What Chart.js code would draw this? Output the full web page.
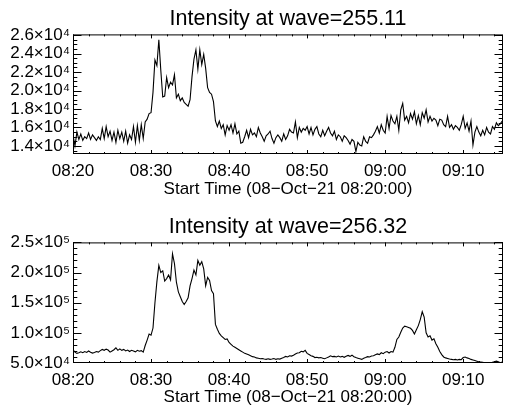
<!DOCTYPE html>
<html>
<head>
<meta charset="utf-8">
<script src="https://cdn.jsdelivr.net/npm/chart.js@4.4.1/dist/chart.umd.min.js"></script>
<style>
html, body { margin: 0; padding: 0; background: #fff; }
canvas { display: block; }
</style>
</head>
<body>
<canvas id="chart255" width="507" height="200"></canvas>
<canvas id="chart256" width="507" height="208"></canvas>
<script>
// intensity at 255.11, one value every 15 s from 08:20:00
const intensity255 = [
  15200, 14000, 15500, 14700, 15300, 14600, 15000, 14800, 15400, 14700, 15200, 14900,
  14600, 15000, 14700, 15900, 14800, 16100, 15000, 15600, 14600, 15500, 14400, 15700,
  14800, 15500, 14500, 15600, 14300, 15200, 14700, 16100, 14400, 16200, 14600, 16300,
  14800, 16600, 16900, 17500, 17600, 19800, 23300, 22700, 25500, 22200, 19300, 19400,
  21400, 20300, 20900, 20600, 21700, 19200, 19600, 18900, 19200, 18700, 18500, 18300,
  19000, 21500, 23400, 24400, 22300, 24400, 22800, 23900, 22400, 20300, 19800, 19600,
  18800, 16700, 16100, 16700, 15900, 16300, 15200, 16200, 15700, 16300, 15400, 16400,
  15300, 15600, 14300, 14400, 15000, 15700, 14900, 15800, 15200, 15400, 15000, 16000,
  15400, 15000, 14500, 15100, 15300, 15600, 14800, 14300, 14900, 15200, 14900, 14500,
  15300, 14700, 15100, 15800, 15500, 15400, 16600, 14900, 16000, 15500, 15900, 15700,
  16100, 15300, 16000, 15200, 15800, 16100, 15300, 15000, 15700, 15100, 15600, 16000,
  15400, 15100, 15600, 14700, 15200, 15000, 14500, 15100, 14900, 14600, 14200, 14700,
  14500, 13400, 14400, 14100, 14000, 15000, 14500, 14300, 15000, 14900, 15200, 15600,
  16100, 15400, 16300, 15700, 15400, 17200, 15900, 17300, 16700, 16400, 17200, 15700,
  17900, 18600, 16800, 17200, 16500, 17500, 16900, 17700, 16400, 17300, 16300, 17600,
  17000, 17900, 16600, 17200, 16700, 17000, 16800, 16200, 16900, 16800, 16300, 16100,
  17200, 16000, 16300, 15800, 16200, 16000, 15700, 16300, 17200, 15900, 16500, 15600,
  16700, 14100, 15500, 16100, 15500, 15100, 15700, 15200, 16000, 15500, 15300, 16100,
  15800, 16500, 16200, 16400, 16700
];

// intensity at 256.32, same cadence
const intensity256 = [
  72000, 68000, 66000, 67000, 68500, 67000, 69000, 67500, 70000, 68000, 66500, 67500,
  69000, 68000, 70500, 72500, 71000, 73000, 71500, 68000, 70000, 72000, 75000, 71000,
  73500, 71000, 72500, 70000, 71500, 69000, 71000, 70000, 68500, 71000, 69500, 70500,
  68000, 79000, 88000, 98000, 96000, 108000, 150000, 185000, 212000, 200000, 203000, 186000,
  190000, 196000, 188000, 231000, 215000, 184000, 168000, 160000, 152000, 147000, 152000, 158000,
  178000, 190000, 204000, 196000, 220000, 212000, 218000, 206000, 178000, 192000, 187000, 170000,
  165000, 114000, 106000, 99000, 95000, 92000, 89000, 90000, 84000, 81000, 78000, 76000,
  74000, 72000, 70000, 68000, 66000, 65000, 63500, 62000, 60500, 60000, 58500, 58000,
  57000, 57500, 56500, 56000, 57000, 56000, 56500, 57500, 56000, 57000, 56500, 58000,
  59000, 61000, 60000, 62000, 61500, 63000, 65000, 66500, 67000, 69500, 68500, 71000,
  66000, 64000, 62000, 61000, 59000, 59500, 58500, 59000, 58000, 57000, 58500, 60000,
  62000, 60500, 61000, 60000, 61500, 60000, 61000, 59500, 61000, 62500, 61000, 63000,
  60500, 59000, 58000, 57000, 56000, 58000, 59000, 60500, 60000, 61500, 62000, 63500,
  65000, 64000, 67000, 65500, 68000, 69000, 66500, 69000, 68000, 76000, 89000, 93000,
  101000, 108000, 111000, 110000, 109000, 107500, 104000, 98000, 105000, 112000, 122000, 135000,
  126000, 100000, 93000, 95000, 88000, 90000, 82000, 76000, 69000, 64000, 60000, 58500,
  57500, 56500, 56000, 55500, 56000, 55000, 56000, 55500, 59000, 60000, 58500, 57500,
  56000, 55000, 54000, 53000, 52000, 51500, 51000, 50500, 50000, 50500, 50000, 51000,
  52000, 53000, 52000, 50500, 51500
];

// minutes after 08:20:00 (15 s cadence)
const minutes = intensity255.map((v, i) => i * 0.25);

const xMajor = [0, 10, 20, 30, 40, 50];
const xTickLabels = ['08:20', '08:30', '08:40', '08:50', '09:00', '09:10'];
const xMinor = [2, 4, 6, 8, 12, 14, 16, 18, 22, 24, 26, 28, 32, 34, 36, 38, 42, 44, 46, 48, 52, 54];

const yMajor255 = [14000, 16000, 18000, 20000, 22000, 24000, 26000];
const yLabels255 = ['1.4×10⁴', '1.6×10⁴', '1.8×10⁴', '2.0×10⁴', '2.2×10⁴', '2.4×10⁴', '2.6×10⁴'];
const yMinor255 = [13500, 14500, 15000, 15500, 16500, 17000, 17500, 18500, 19000, 19500,
  20500, 21000, 21500, 22500, 23000, 23500, 24500, 25000, 25500];

const yMajor256 = [50000, 100000, 150000, 200000, 250000];
const yLabels256 = ['5.0×10⁴', '1.0×10⁵', '1.5×10⁵', '2.0×10⁵', '2.5×10⁵'];
const yMinor256 = [60000, 70000, 80000, 90000, 110000, 120000, 130000, 140000,
  160000, 170000, 180000, 190000, 210000, 220000, 230000, 240000];

const FONT = "'Liberation Sans', Arial, Helvetica, sans-serif";

// IDL style box with inward ticks on all four sides
const frame = {
  id: 'frame',
  afterDatasetsDraw(chart, args, opts) {
    const { ctx, chartArea: a, scales: { x, y } } = chart;
    ctx.save();
    ctx.strokeStyle = '#000';
    ctx.lineWidth = 1;
    ctx.strokeRect(a.left + 0.5, a.top + 0.5, a.right - a.left - 1, a.bottom - a.top - 1);
    ctx.beginPath();
    const xt = (vals, len) => vals.forEach(v => {
      const p = Math.round(x.getPixelForValue(v)) + 0.5;
      ctx.moveTo(p, a.bottom); ctx.lineTo(p, a.bottom - len);
      ctx.moveTo(p, a.top); ctx.lineTo(p, a.top + len);
    });
    const yt = (vals, len) => vals.forEach(v => {
      const p = Math.round(y.getPixelForValue(v)) + 0.5;
      if (p < a.top || p > a.bottom) return;
      ctx.moveTo(a.left, p); ctx.lineTo(a.left + len, p);
      ctx.moveTo(a.right, p); ctx.lineTo(a.right - len, p);
    });
    xt(opts.xMajor, 4);
    xt(opts.xMinor, 2);
    yt(opts.yMajor, 8.5);
    yt(opts.yMinor, 4.3);
    ctx.stroke();
    ctx.restore();
  }
};

function drawPanel(id, values, title, yMin, yMax, yMajor, yLabels, yMinor, titlePad, xHeight) {
  new Chart(id, {
    type: 'line',
    data: {
      datasets: [{
        data: values.map((v, i) => ({ x: minutes[i], y: v })),
        borderColor: '#000',
        borderWidth: 1.1,
        pointRadius: 0,
        tension: 0,
        fill: false
      }]
    },
    options: {
      responsive: false,
      animation: false,
      devicePixelRatio: 1,
      layout: { padding: { left: 0, right: 4, top: 0, bottom: 0 } },
      plugins: {
        legend: { display: false },
        tooltip: { enabled: false },
        title: {
          display: true,
          text: title,
          color: '#000',
          fullSize: false,
          font: { family: FONT, size: 21.5, weight: 'normal', lineHeight: 1.2 },
          padding: titlePad
        },
        frame: { xMajor: xMajor, xMinor: xMinor, yMajor: yMajor, yMinor: yMinor }
      },
      scales: {
        x: {
          type: 'linear',
          min: 0,
          max: 55.1,
          grid: { display: false, drawTicks: false },
          border: { display: false },
          afterBuildTicks: s => { s.ticks = xMajor.map(v => ({ value: v })); },
          afterFit: s => { s.height = xHeight; },
          ticks: {
            color: '#000',
            autoSkip: false,
            maxRotation: 0,
            padding: 7,
            font: { family: FONT, size: 17 },
            callback: (v, i) => xTickLabels[i]
          },
          title: {
            display: true,
            text: 'Start Time (08−Oct−21 08:20:00)',
            color: '#000',
            font: { family: FONT, size: 17 },
            padding: { top: 0, bottom: 0 }
          }
        },
        y: {
          min: yMin,
          max: yMax,
          grid: { display: false, drawTicks: false },
          border: { display: false },
          afterBuildTicks: s => { s.ticks = yMajor.map(v => ({ value: v })); },
          afterFit: s => { s.width = 73; },
          ticks: {
            color: '#000',
            autoSkip: false,
            padding: 3,
            font: { family: FONT, size: 17 },
            callback: (v, i) => yLabels[i]
          }
        }
      }
    },
    plugins: [frame]
  });
}

drawPanel('chart255', intensity255, 'Intensity at wave=255.11', 13130, 26070,
  yMajor255, yLabels255, yMinor255, { top: 6.3, bottom: 2.3 }, 46);
drawPanel('chart256', intensity256, 'Intensity at wave=256.32', 50000, 250000,
  yMajor256, yLabels256, yMinor256, { top: 14.3, bottom: 2.3 }, 45);
</script>
</body>
</html>
